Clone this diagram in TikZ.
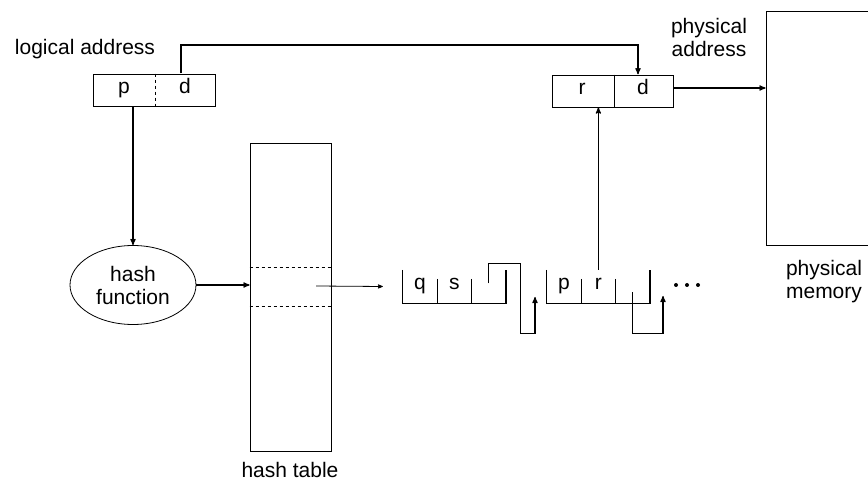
\documentclass[tikz,border=0pt]{standalone}
\usepackage{fontspec}
\setmainfont{Liberation Sans}
\usetikzlibrary{shapes,arrows,positioning}

\begin{document}
\begin{tikzpicture}[x=1pt,y=-1pt,
  font=\fontsize{21}{23}\selectfont,
  box/.style={draw, line width=.8pt, inner sep=0pt},
  lbl/.style={align=center, inner sep=0pt},
  cell/.style={inner sep=0pt, minimum width=34pt, minimum height=33pt, text height=1.5ex, text depth=.25ex},
  arr/.style={line width=1.2pt, -stealth'},
  link/.style={line width=1.2pt}]
\useasboundingbox (0,0) rectangle (868,481);

\node[lbl] (la) at (85,49) {logical address};
\node[box, minimum width=122pt, minimum height=32pt] (lbox) at (154,90) {};
\node[cell] (p) at (124,90) {p};
\node[cell] (d) at (185,90) {d};
\draw[dashed, line width=.6pt] (lbox.north) ++(1,0) -- ++(0,32);

\node[box, minimum width=121pt, minimum height=32pt] (rd) at (612.5,91) {};
\node[cell] (r) at (582,91) {r};
\node[cell] (d2) at (643,91) {d};
\draw[line width=.8pt] ([xshift=1.5pt]rd.north) -- ([xshift=1.5pt]rd.south);
\node[lbl] (pa) at (709,37) {physical\\address};

\coordinate (bend) at (400,45);
\draw[arr] ([xshift=-4pt]d.north) |- (bend) -| ([xshift=-5pt]d2.north);

\node[ellipse, draw, line width=.8pt, minimum width=126pt, minimum height=79pt, inner sep=0pt, align=center] (hf) at (133,285) {hash\\function};
\draw[arr] (p.south -| hf.north) -- (hf.north);

\node[box, minimum width=81pt, minimum height=308pt] (ht) at (290.5,297) {};
\draw[dashed, line width=.6pt] ([yshift=30pt]ht.west) -- ([yshift=30pt]ht.east);
\draw[dashed, line width=.6pt] ([yshift=-9pt]ht.west) -- ([yshift=-9pt]ht.east);
\node[lbl] (htl) at (290,470) {hash table};
\draw[arr] (hf.east) -- (ht.west |- hf.east);

\node[cell] (q) at (420,286.5) {q};
\node[cell, right=0pt of q] (s) {s};
\node[cell, right=0pt of s] (qn) {};
\draw[link] (q.north west) -- (q.south west) -- (qn.south east) -- (qn.north east);
\draw[link] ([yshift=-9pt]q.north east) -- (q.south east);
\draw[link] ([yshift=-9pt]s.north east) -- (s.south east);

\node[cell] (p2) at (564,286.5) {p};
\node[cell, right=0pt of p2] (r2) {r};
\node[cell, right=0pt of r2] (rn) {};
\draw[link] (p2.north west) -- (p2.south west) -- (rn.south east) -- (rn.north east);
\draw[link] ([yshift=-9pt]p2.north east) -- (p2.south east);
\draw[link] ([yshift=-9pt]r2.north east) -- (r2.south east);

\coordinate (hp) at (316,286);
\draw[arr, line width=.8pt] (hp) -- ([xshift=-20pt]q.west);

\coordinate (e1) at (535,297);
\draw[arr] ([yshift=3pt]qn.center) -- ++(0,-20) -- ++(32,0) -- ++(0,70) -| (e1);
\coordinate (e2) at (663,296);
\draw[arr] ([yshift=-6pt]rn.center) -- ++(0,41) -| (e2);
\foreach \x in {676,687,698} \fill (\x,285) circle (2pt);

\draw[arr] (r2.north) -- (r2.north |- rd.south);

\node[box, minimum width=114pt, minimum height=234pt] (mem) at (823,128) {};
\coordinate (ro) at ([yshift=3pt]rd.east);
\draw[arr] (ro) -- (ro -| mem.west);
\node[lbl] (ml) at (824,282) {physical\\memory};
\end{tikzpicture}
\end{document}
